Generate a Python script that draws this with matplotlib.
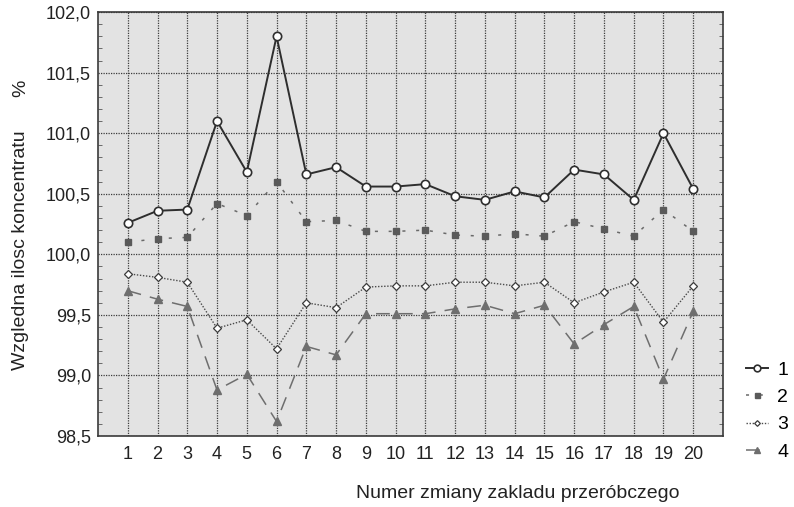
import matplotlib.pyplot as plt
import numpy as np
from matplotlib.ticker import FuncFormatter, MultipleLocator

plt.rcParams['font.family'] = ['Liberation Sans', 'DejaVu Sans']

shifts = np.arange(1, 21)

series_1 = [100.26, 100.36, 100.37, 101.10, 100.68, 101.80, 100.66, 100.72, 100.56, 100.56,
            100.58, 100.48, 100.45, 100.52, 100.47, 100.70, 100.66, 100.45, 101.00, 100.54]
series_2 = [100.10, 100.13, 100.14, 100.42, 100.32, 100.60, 100.27, 100.28, 100.19, 100.19,
            100.20, 100.16, 100.15, 100.17, 100.15, 100.27, 100.21, 100.15, 100.37, 100.19]
series_3 = [99.84, 99.81, 99.77, 99.39, 99.46, 99.22, 99.60, 99.56, 99.73, 99.74,
            99.74, 99.77, 99.77, 99.74, 99.77, 99.60, 99.69, 99.77, 99.44, 99.74]
series_4 = [99.70, 99.63, 99.57, 98.88, 99.01, 98.62, 99.24, 99.17, 99.51, 99.51,
            99.51, 99.55, 99.58, 99.51, 99.58, 99.26, 99.42, 99.57, 98.97, 99.53]

labels = ["1", "2", "3", "4"]

fig = plt.figure(figsize=(7.94, 5.07), dpi=100)
ax = fig.add_axes([0.1234, 0.140, 0.7872, 0.836])
ax.set_facecolor("#e3e3e3")

ax.plot(shifts, series_1, color="#2e2e2e", lw=1.4, marker="o", ms=6,
        mfc="white", mec="#2e2e2e", mew=1.2, label=labels[0], zorder=5)
ax.plot(shifts, series_2, color="#6a6a6a", lw=1.1, ls=(0, (2, 7)), marker="s", ms=4.5,
        mfc="#5a5a5a", mec="#5a5a5a", label=labels[1], zorder=4)
ax.plot(shifts, series_3, color="#4a4a4a", lw=1.0, ls=(0, (1, 1.2)), marker="D", ms=3.6,
        mfc="white", mec="#3a3a3a", mew=0.9, label=labels[2], zorder=4)
ax.plot(shifts, series_4, color="#6e6e6e", lw=1.1, ls=(0, (9, 6)), marker="^", ms=5.5,
        mfc="#6e6e6e", mec="#6e6e6e", label=labels[3], zorder=3)

ax.set_xlim(0, 21)
ax.set_ylim(98.5, 102.0)
ax.set_xticks(shifts)
ax.yaxis.set_major_locator(MultipleLocator(0.5))
ax.yaxis.set_minor_locator(MultipleLocator(0.1))
ax.yaxis.set_major_formatter(FuncFormatter(lambda v, _: f"{v:.1f}".replace(".", ",")))
ax.tick_params(axis="both", which="major", length=0, labelsize=13, colors="#222222")
ax.tick_params(axis="x", which="major", pad=7)
ax.tick_params(axis="y", which="major", pad=5)
ax.tick_params(axis="y", which="minor", direction="in", length=3, left=True, right=True,
               color="#555555")
ax.grid(True, which="major", color="#3c3c3c", ls=(0, (1, 1)), lw=0.9)
for spine in ax.spines.values():
    spine.set_color("#3a3a3a")
    spine.set_linewidth(1.2)

# y label with the unit set apart near the top
fig.text(0.026, 0.507, "Wzgledna ilosc koncentratu", rotation=90,
         ha="center", va="center", fontsize=14, color="#222222")
fig.text(0.026, 0.826, "%", rotation=90, ha="center", va="center",
         fontsize=14, color="#222222")
fig.text(0.652, 0.027, "Numer zmiany zakladu przeróbczego", ha="center", va="center",
         fontsize=14, color="#222222")

fig.legend(loc="upper left", bbox_to_anchor=(0.930, 0.303), frameon=False, fontsize=14,
           handlelength=1.1, handletextpad=0.5, labelspacing=0.5, borderaxespad=0,
           markerscale=0.8)

fig.savefig("out.png", dpi=100)
